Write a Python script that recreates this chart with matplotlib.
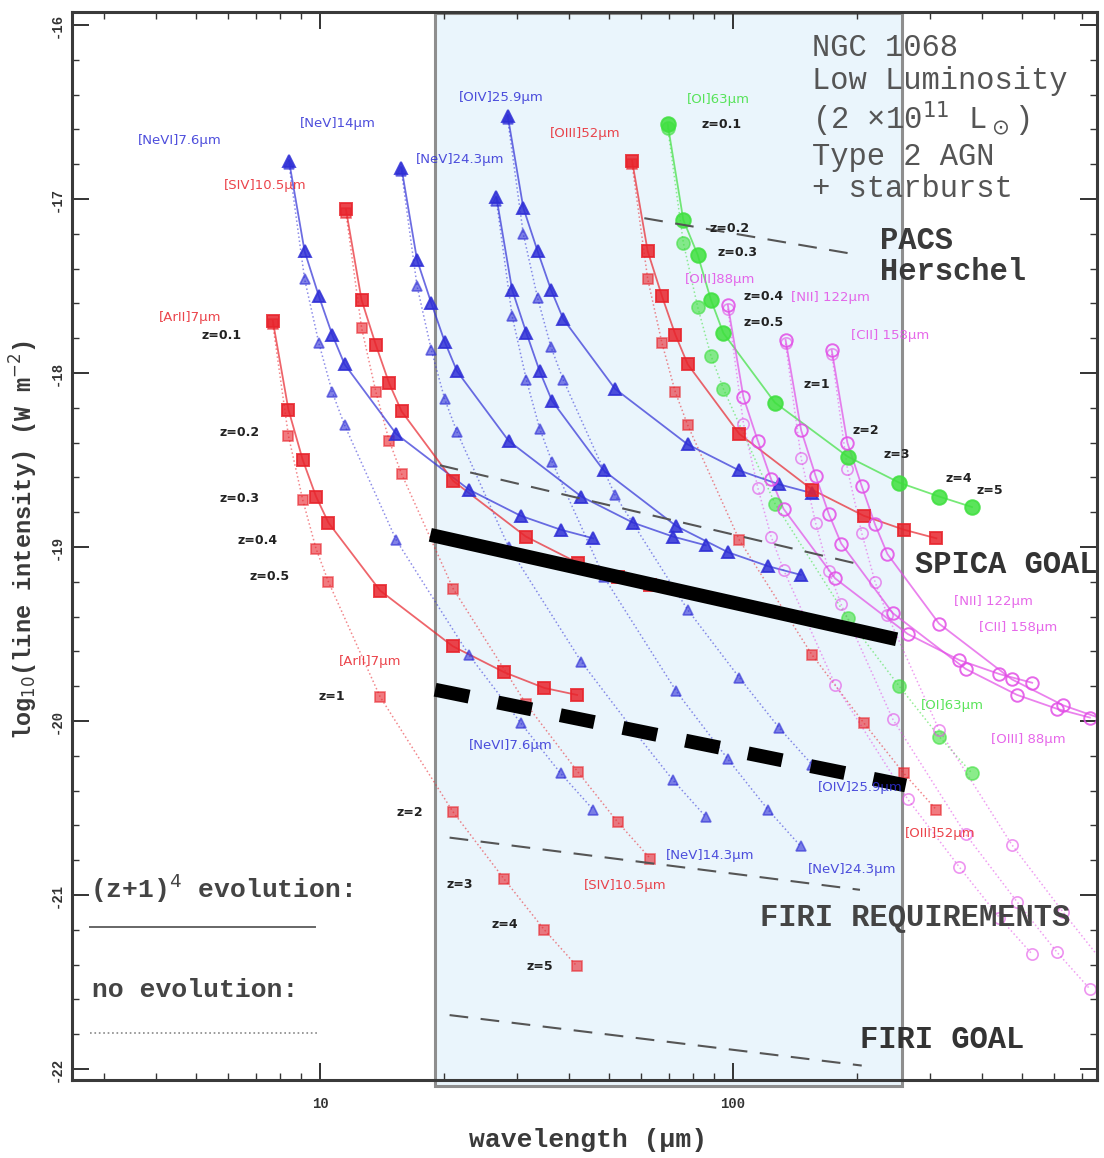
import numpy as np
import matplotlib
matplotlib.use("Agg")
import matplotlib.pyplot as plt
from matplotlib.patches import Rectangle
from matplotlib.lines import Line2D

# ---------------------------------------------------------------- data
REDSHIFT = [0.1, 0.2, 0.3, 0.4, 0.5, 1, 2, 3, 4, 5]

LINE_NAMES = ["[ArII]7µm", "[NeVI]7.6µm", "[SIV]10.5µm", "[NeV]14.3µm",
              "[NeV]24.3µm", "[OIV]25.9µm", "[OIII]52µm", "[OI]63µm",
              "[OIII]88µm", "[NII]122µm", "[CII]158µm"]
REST_WAVELENGTH = [6.99, 7.65, 10.51, 14.32, 24.32, 25.89, 51.81, 63.18,
                   88.36, 121.9, 157.7]
LINE_GROUP = ["red", "blue", "red", "blue", "blue", "blue", "red", "green",
              "magenta", "magenta", "magenta"]

# log10 line flux (W m^-2), luminosity evolving as (z+1)^4
FLUX_EVOLVING = [
    [-17.70, -18.21, -18.50, -18.71, -18.86, -19.25, -19.57, -19.72, -19.81, -19.85],
    [-16.78, -17.30, -17.56, -17.78, -17.95, -18.35, -18.67, -18.82, -18.90, -18.95],
    [-17.06, -17.58, -17.84, -18.06, -18.22, -18.62, -18.94, -19.09, -19.17, -19.22],
    [-16.82, -17.35, -17.60, -17.82, -17.99, -18.39, -18.71, -18.86, -18.94, -18.99],
    [-16.99, -17.52, -17.77, -17.99, -18.16, -18.56, -18.88, -19.03, -19.11, -19.16],
    [-16.52, -17.05, -17.30, -17.52, -17.69, -18.09, -18.41, -18.56, -18.64, -18.69],
    [-16.78, -17.30, -17.56, -17.78, -17.95, -18.35, -18.67, -18.82, -18.90, -18.95],
    [-16.57, -17.12, -17.32, -17.58, -17.77, -18.17, -18.48, -18.63, -18.71, -18.77],
    [-17.61, -18.14, -18.39, -18.61, -18.78, -19.18, -19.50, -19.65, -19.73, -19.78],
    [-17.81, -18.33, -18.59, -18.81, -18.98, -19.38, -19.70, -19.85, -19.93, -19.98],
    [-17.87, -18.40, -18.65, -18.87, -19.04, -19.44, -19.76, -19.91, -19.99, -20.04],
]

# log10 line flux (W m^-2), no luminosity evolution
FLUX_NO_EVOLUTION = [
    [-17.72, -18.36, -18.73, -19.01, -19.20, -19.86, -20.52, -20.91, -21.20, -21.41],
    [-16.80, -17.46, -17.83, -18.11, -18.30, -18.96, -19.62, -20.01, -20.30, -20.51],
    [-17.08, -17.74, -18.11, -18.39, -18.58, -19.24, -19.90, -20.29, -20.58, -20.79],
    [-16.84, -17.50, -17.87, -18.15, -18.34, -19.00, -19.66, -20.05, -20.34, -20.55],
    [-17.01, -17.67, -18.04, -18.32, -18.51, -19.17, -19.83, -20.22, -20.51, -20.72],
    [-16.54, -17.20, -17.57, -17.85, -18.04, -18.70, -19.36, -19.75, -20.04, -20.25],
    [-16.80, -17.46, -17.83, -18.11, -18.30, -18.96, -19.62, -20.01, -20.30, -20.51],
    [-16.59, -17.25, -17.62, -17.90, -18.09, -18.75, -19.41, -19.80, -20.09, -20.30],
    [-17.63, -18.29, -18.66, -18.94, -19.13, -19.79, -20.45, -20.84, -21.13, -21.34],
    [-17.83, -18.49, -18.86, -19.14, -19.33, -19.99, -20.65, -21.04, -21.33, -21.54],
    [-17.89, -18.55, -18.92, -19.20, -19.39, -20.05, -20.71, -21.10, -21.39, -21.60],
]

# instrument sensitivity limits: wavelength (µm) and log10 flux
PACS_WL, PACS_LOGF = [61, 200], [-17.11, -17.32]
SPICA_WL, SPICA_LOGF = [19.5, 203], [-18.53, -19.10]
FIRI_REQ_WL, FIRI_REQ_LOGF = [20.6, 203], [-20.67, -20.97]
FIRI_GOAL_WL, FIRI_GOAL_LOGF = [20.6, 205], [-21.69, -21.98]
SAFARI_WL, SAFARI_LOGF = [18.5, 249], [-18.93, -19.53]
SAFARI_NOEV_WL, SAFARI_NOEV_LOGF = [19.0, 262], [-19.82, -20.37]

BAND_RANGE = [19, 256]   # shaded spectral band (µm)

# ---------------------------------------------------------------- style
W, H = 1104, 1158
COLORS = {"blue": "#2f2fd6", "red": "#e8242c", "green": "#3ee03e",
          "magenta": "#e24de6"}
MARKERS = {"blue": "^", "red": "s", "green": "o", "magenta": "o"}
MSIZE = {"blue": 8, "red": 8, "green": 10.5, "magenta": 9}
MONO = "Liberation Mono"

fig = plt.figure(figsize=(W / 100, H / 100), dpi=100)
ax = fig.add_axes([72 / W, 1 - 1080 / H, (1097 - 72) / W, (1080 - 12) / H])
ax.set_xscale("log")
ax.set_xlim(2.51, 761)
ax.set_ylim(-22.063, -15.925)


def fxy(px, py):
    return px / W, 1 - py / H


# shaded band
ax.add_patch(Rectangle((BAND_RANGE[0], -22.1), BAND_RANGE[1] - BAND_RANGE[0],
                       6.17, facecolor="#eaf5fc", edgecolor="#8e8e8e",
                       lw=2.2, zorder=0.5, clip_on=False))

# redshift tracks
z = np.array(REDSHIFT)
for name, rest, grp, fe, fn in zip(LINE_NAMES, REST_WAVELENGTH, LINE_GROUP,
                                   FLUX_EVOLVING, FLUX_NO_EVOLUTION):
    col = COLORS[grp]
    wl = rest * (1 + z)
    open_marker = grp == "magenta"
    ax.plot(wl, fn, ls=":", lw=1.1, color=col, alpha=0.55, zorder=2)
    ax.plot(wl, fn, ls="none", marker=MARKERS[grp], ms=MSIZE[grp] * 0.9,
            mfc="none" if open_marker else col, mec=col, mew=1.2,
            alpha=0.6, zorder=3)
    ax.plot(wl, fe, ls="-", lw=1.3, color=col, alpha=0.7, zorder=2.5)
    ax.plot(wl, fe, ls="none", marker=MARKERS[grp], ms=MSIZE[grp],
            mfc="none" if open_marker else col, mec=col, mew=1.4,
            alpha=0.85, zorder=3.5)

# sensitivity limits
for wl, lf in [(PACS_WL, PACS_LOGF), (SPICA_WL, SPICA_LOGF),
               (FIRI_REQ_WL, FIRI_REQ_LOGF), (FIRI_GOAL_WL, FIRI_GOAL_LOGF)]:
    ax.plot(wl, lf, color="#555555", lw=1.5, dashes=(9, 6), zorder=4)
ax.plot(SAFARI_WL, SAFARI_LOGF, color="black", lw=10, solid_capstyle="butt",
        zorder=6, clip_on=False)
ax.plot(SAFARI_NOEV_WL, SAFARI_NOEV_LOGF, color="black", lw=10,
        dashes=(2.5, 2.1), dash_capstyle="butt", zorder=6, clip_on=False)

# axes cosmetics
for sp in ax.spines.values():
    sp.set_color("#3a3a3a")
    sp.set_linewidth(2.2)
    sp.set_zorder(7)
ax.set_xticks([10, 100])
ax.set_xticklabels(["10", "100"], fontsize=10, fontweight="bold",
                   family=MONO, color="#333")
ax.set_xticks([3, 4, 5, 6, 7, 8, 9, 20, 30, 40, 50, 60, 70, 80, 90,
               200, 300, 400, 500, 600, 700], minor=True)
ax.xaxis.set_minor_formatter(plt.NullFormatter())
yt = list(range(-22, -15))
ax.set_yticks(yt)
ax.set_yticklabels([str(v) for v in yt], rotation=90, fontsize=10,
                   fontweight="bold", family=MONO, color="#333", va="center")
ax.set_yticks(np.arange(-22, -15.9, 0.2), minor=True)
ax.tick_params(which="both", direction="in", top=True, right=True,
               color="#333")
ax.tick_params(which="major", length=12, width=1.4)
ax.tick_params(axis="x", which="major", pad=12)
ax.tick_params(axis="y", which="major", pad=6)
ax.tick_params(which="minor", length=5, width=1.0)

fig.text(*fxy(24, 540), r"log$_{10}$(line intensity) (W m$^{-2}$)",
         rotation=90, ha="center", va="center", fontsize=17,
         fontweight="bold", family=MONO, color="#3a3a3a")
fig.text(*fxy(588, 1140), "wavelength (µm)", ha="center", va="center",
         fontsize=19, fontweight="bold", family=MONO, color="#3a3a3a")

# object description
fig.text(*fxy(812, 33), "NGC 1068\nLow Luminosity\n(2 ×10$^{11}$ L$_\\odot$)\nType 2 AGN\n+ starburst",
         ha="left", va="top", fontsize=22, family=MONO, color="#555",
         linespacing=1.12)
fig.text(*fxy(880, 226), "PACS\nHerschel", ha="left", va="top", fontsize=22,
         family=MONO, fontweight="bold", color="#3a3a3a", linespacing=1.05)
fig.text(*fxy(915, 565), "SPICA GOAL", ha="left", va="center", fontsize=22,
         family=MONO, fontweight="bold", color="#333")
fig.text(*fxy(760, 918), "FIRI REQUIREMENTS", ha="left", va="center",
         fontsize=22, family=MONO, fontweight="bold", color="#444")
fig.text(*fxy(860, 1040), "FIRI GOAL", ha="left", va="center", fontsize=22,
         family=MONO, fontweight="bold", color="#333")

# line-style key
fig.text(*fxy(90, 888), r"(z+1)$^4$ evolution:", ha="left", va="center",
         fontsize=19, family=MONO, fontweight="bold", color="#444")
fig.add_artist(Line2D([90 / W, 315 / W], [1 - 927 / H] * 2, color="#666",
                      lw=1.4))
fig.text(*fxy(92, 990), "no evolution:", ha="left", va="center", fontsize=19,
         family=MONO, fontweight="bold", color="#444")
fig.add_artist(Line2D([90 / W, 318 / W], [1 - 1033 / H] * 2, color="#888",
                      lw=1.2, ls=":"))

# line identifications
LABELS = [
    ("[NeVI]7.6µm", 180, 140, "blue"), ("[NeV]14µm", 338, 123, "blue"),
    ("[NeV]24.3µm", 460, 160, "blue"), ("[OIV]25.9µm", 501, 97, "blue"),
    ("[SIV]10.5µm", 265, 185, "red"), ("[ArII]7µm", 190, 318, "red"),
    ("[OIII]52µm", 585, 133, "red"), ("[OI]63µm", 718, 100, "green"),
    ("[OIII]88µm", 720, 280, "magenta"), ("[NII] 122µm", 830, 298, "magenta"),
    ("[CII] 158µm", 890, 335, "magenta"),
    ("[ArII]7µm", 370, 662, "red"), ("[NeVI]7.6µm", 511, 745, "blue"),
    ("[NeV]14.3µm", 710, 855, "blue"), ("[SIV]10.5µm", 625, 885, "red"),
    ("[NeV]24.3µm", 852, 870, "blue"), ("[OIV]25.9µm", 860, 787, "blue"),
    ("[OIII]52µm", 940, 833, "red"), ("[OI]63µm", 952, 705, "green"),
    ("[NII] 122µm", 993, 602, "magenta"), ("[CII] 158µm", 1018, 627, "magenta"),
    ("[OIII] 88µm", 1028, 740, "magenta"),
]
for txt, px, py, grp in LABELS:
    fig.text(*fxy(px, py), txt, ha="center", va="center", fontsize=9.5,
             color=COLORS[grp], alpha=0.85, zorder=8)

# redshift annotations
ZLABELS = [
    ("z=0.1", 222, 336), ("z=0.2", 240, 432), ("z=0.3", 240, 498),
    ("z=0.4", 258, 540), ("z=0.5", 270, 577), ("z=1", 332, 697),
    ("z=2", 410, 812), ("z=3", 460, 885), ("z=4", 505, 925),
    ("z=5", 540, 967),
    ("z=0.1", 722, 125), ("z=0.2", 730, 228), ("z=0.3", 737, 253),
    ("z=0.4", 764, 297), ("z=0.5", 764, 322), ("z=1", 817, 385),
    ("z=2", 866, 430), ("z=3", 897, 455), ("z=4", 959, 478),
    ("z=5", 990, 490),
]
for txt, px, py in ZLABELS:
    fig.text(*fxy(px, py), txt, ha="center", va="center", fontsize=9,
             fontweight="bold", color="#222", zorder=8)

fig.savefig("out.png", dpi=100)
